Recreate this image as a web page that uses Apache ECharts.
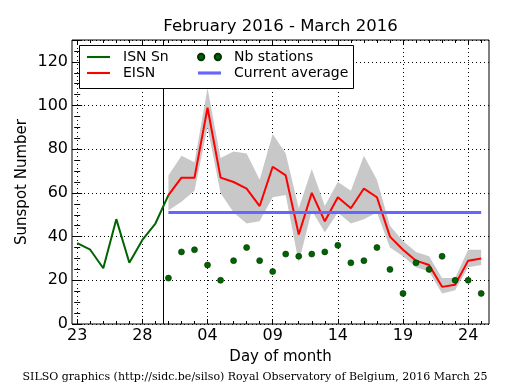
<!DOCTYPE html>
<html>
<head>
<meta charset="utf-8">
<script src="https://cdn.jsdelivr.net/npm/echarts@6/dist/echarts.min.js"></script>
<style>html,body{margin:0;padding:0;background:#fff}#c{width:515px;height:390px}</style>
</head>
<body>
<div id="c"></div>
<script>
// Day labels from 2016-02-23 (index 0) to 2016-03-25 (index 31)
const dayLabels = ['23','24','25','26','27','28','29','01','02','03','04','05','06','07','08','09',
  '10','11','12','13','14','15','16','17','18','19','20','21','22','23','24','25'];
const majorTickIdx = [0,5,10,15,20,25,30];
const separatorDay = 6.6;

// ISN Sn (index 0..7)
const isnDays = [0,1,2,3,4,5,6,7];
const isnSn = [37,34,25.5,48,28,38.5,46,59];

// EISN and friends (index 7..31)
const eisnDays = [7,8,9,10,11,12,13,14,15,16,17,18,19,20,21,22,23,24,25,26,27,28,29,30,31];
const eisn     = [59,67,67,99,67,65,62,54,72,68,41,60,47,58,53,62,58,40,34,29,27,17,18,29,30];
const eisnUp   = [68,77,74,108,76,79,78,66,87,78,53,71,54,65,61,77,66,45,38,33,31,21,21,34,34];
const eisnLow  = [52,56,61,90,60,51,46,47,58,59,28,52,42,51,46,48,51,35,31,26,24,14,15.5,26,27];
const nbStations = [21,33,34,27,20,29,35,29,24,32,31,32,33,36,28,29,35,25,14,28,25,31,20,20,14];
const currentAverage = 51;

const FONT = 'DejaVu Sans';
const allIdx = dayLabels.map((d,i)=>i);
const xMin = -0.4, xMax = 31.6;

const chart = echarts.init(document.getElementById('c'), null, {renderer:'canvas'});

function xAxisDef(pos, ticks, len, withLabels) {
  return {
    type:'value', min:xMin, max:xMax, position:pos, gridIndex:0,
    axisLine:{show:false},
    axisTick:{show:true, inside:true, length:len, customValues:ticks, lineStyle:{color:'#000', width:1}},
    axisLabel: withLabels ? {show:true, customValues:ticks, formatter:v=>dayLabels[Math.round(v)],
      fontSize:16, color:'#000', fontFamily:FONT, margin:4} : {show:false},
    splitLine: withLabels ? {show:true, lineStyle:{color:'#000', width:1, type:[1,3]}} : {show:false}
  };
}
function yAxisDef(pos, withLabels) {
  return {
    type:'value', min:0, max:130, interval:20, position:pos,
    axisLine:{show:false},
    axisTick:{show:true, inside:true, length:5, lineStyle:{color:'#000'}},
    minorTick:{show:true, splitNumber:4, length:3, lineStyle:{color:'#000'}},
    axisLabel: withLabels ? {show:true, fontSize:16, color:'#000', fontFamily:FONT, margin:4, showMaxLabel:false} : {show:false},
    splitLine: withLabels ? {show:true, lineStyle:{color:'#000', width:1, type:[1,3]}} : {show:false}
  };
}
const lineIcon = 'path://M0,0H22V2H0Z';
const lineIcon3 = 'path://M0,0H22V3H0Z';

const option = {
  animation:false,
  backgroundColor:'#fff',
  grid:{left:72, right:26, top:40, bottom:66, show:true, borderColor:'#000', borderWidth:1, backgroundColor:'transparent'},
  xAxis:[
    xAxisDef('bottom', majorTickIdx, 5, true),
    xAxisDef('bottom', allIdx, 3, false),
    xAxisDef('top', majorTickIdx, 5, false),
    xAxisDef('top', allIdx, 3, false)
  ],
  yAxis:[yAxisDef('left', true), yAxisDef('right', false)],
  legend:[
    {data:[{name:'ISN Sn', icon:lineIcon},{name:'EISN', icon:lineIcon}], orient:'vertical', left:87, top:50, padding:0,
     itemWidth:23, itemHeight:14, itemGap:2,
     textStyle:{fontSize:14, color:'#000', fontFamily:FONT, padding:[0,0,0,8]}, selectedMode:false, z:10},
    {data:[{name:'Nb stations', icon:'path://M0,3a3,3 0 1,0 6,0a3,3 0 1,0 -6,0M16,3a3,3 0 1,0 6,0a3,3 0 1,0 -6,0'},{name:'Current average', icon:lineIcon3}],
     orient:'vertical', left:197, top:50, padding:0, itemWidth:23, itemHeight:14, itemGap:2,
     textStyle:{fontSize:14, color:'#000', fontFamily:FONT, padding:[0,0,0,8]}, selectedMode:false, z:10}
  ],
  graphic:[
    {type:'rect', shape:{x:79.5, y:45.5, width:274, height:43}, style:{fill:'#fff', stroke:'#000', lineWidth:1}, z:8},
    {type:'text', x:280.5, y:27, style:{text:'February 2016 - March 2016', font:'16.5px "DejaVu Sans"', fill:'#000', textAlign:'center', textVerticalAlign:'middle'}},
    {type:'text', x:280.5, y:357, style:{text:'Day of month', font:'15px "DejaVu Sans"', fill:'#000', textAlign:'center', textVerticalAlign:'middle'}},
    {type:'text', x:22, y:182, rotation:Math.PI/2, style:{text:'Sunspot Number', font:'15px "DejaVu Sans"', fill:'#000', textAlign:'center', textVerticalAlign:'middle'}},
    {type:'text', x:255, y:377, style:{text:'SILSO graphics (http://sidc.be/silso) Royal Observatory of Belgium, 2016 March 25', font:'11px "DejaVu Serif"', fill:'#000', textAlign:'center', textVerticalAlign:'middle'}}
  ],
  series:[
    {name:'band', type:'custom', silent:true, z:1, clip:true,
     data:eisnDays.map((d,i)=>[d,eisnLow[i],eisnUp[i]]),
     encode:{x:0, y:[1,2]},
     renderItem:function(params, api){
       if (params.dataIndex !== 0) return null;
       const upper = eisnDays.map((d,i)=>api.coord([d,eisnUp[i]]));
       const lower = eisnDays.map((d,i)=>api.coord([d,eisnLow[i]])).reverse();
       return {type:'polygon', shape:{points:upper.concat(lower)}, style:{fill:'#c8c8c8', stroke:null}};
     }},
    {name:'ISN Sn', type:'line', symbol:'none', data:isnDays.map((d,i)=>[d,isnSn[i]]),
     lineStyle:{color:'#006400', width:2}, itemStyle:{color:'#006400'}, z:3,
     markLine:{silent:true, symbol:'none', z:2, label:{show:false}, lineStyle:{color:'#000', width:1, type:'solid'},
       data:[{xAxis:separatorDay}]}},
    {name:'EISN', type:'line', symbol:'none', data:eisnDays.map((d,i)=>[d,eisn[i]]),
     lineStyle:{color:'#ff0000', width:2}, itemStyle:{color:'#ff0000'}, z:3},
    {name:'Nb stations', type:'scatter', symbol:'circle', symbolSize:6,
     data:eisnDays.map((d,i)=>[d,nbStations[i]]),
     itemStyle:{color:'#006400', borderColor:'#003300', borderWidth:0.6, opacity:1}, z:3},
    {name:'Current average', type:'line', symbol:'none',
     data:[[eisnDays[0],currentAverage],[eisnDays[eisnDays.length-1],currentAverage]],
     lineStyle:{color:'#6666ff', width:3}, itemStyle:{color:'#6666ff'}, z:3}
  ]
};
chart.setOption(option);
</script>
</body>
</html>
